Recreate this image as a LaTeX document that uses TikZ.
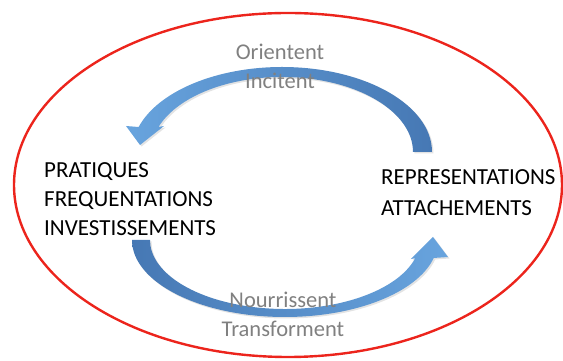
\documentclass[tikz,border=0pt]{standalone}
\usepackage{fontspec}
\setmainfont{Carlito}
\usetikzlibrary{shadows}
\definecolor{arrowlight}{RGB}{104,164,222}
\definecolor{arrowdark}{RGB}{70,120,180}
\definecolor{labelgray}{RGB}{128,128,128}
\definecolor{ringred}{RGB}{236,36,28}
\tikzstyle{big text} = [font=\fontsize{22.5}{29}\selectfont]
\tikzstyle{pole} = [align=left, anchor=west, inner sep=0pt, text=black, font=\fontsize{23}{29}\selectfont]
\tikzstyle{verb} = [align=center, inner sep=0pt, text=labelgray, big text]
\tikzstyle{ring} = [draw=ringred, line width=2.4pt]
\tikzstyle{cycle arrow} = [drop shadow={opacity=0.22, shadow xshift=1.5pt, shadow yshift=-1.5pt}]

\begin{document}
\begin{tikzpicture}[x=1pt, y=1pt]
  \useasboundingbox (0,0) rectangle (563,361);
  \draw[ring] (288,176) ellipse [x radius=274, y radius=172];
  % upper arrow
  \coordinate (upc) at (282,209);
  \shade[cycle arrow, left color=arrowlight, right color=arrowdark]
    ([xshift=150pt]upc) arc[start angle=0, end angle=162.9, x radius=150, y radius=85]
    -- (126,235) -- (140,216) -- (164,235)
    -- ([shift={(160.5:131 and 75)}]upc) arc[start angle=160.5, end angle=0, x radius=131, y radius=75]
    -- cycle;
  % lower arrow
  \coordinate (loc) at (285,121);
  \shade[cycle arrow, left color=arrowdark, right color=arrowlight]
    ([xshift=-153pt]loc) arc[start angle=180, end angle=346.5, x radius=153, y radius=77]
    -- (448,104) -- (433,124) -- (411,102)
    -- ([shift={(344.7:135 and 69)}]loc) arc[start angle=344.7, end angle=180, x radius=135, y radius=69]
    -- cycle;
  \node[pole] (pratiques) at (44,162) {PRATIQUES\\FREQUENTATIONS\\INVESTISSEMENTS};
  \node[pole, font=\fontsize{23}{31}\selectfont] (represent) at (381,168) {REPRESENTATIONS\\ATTACHEMENTS};
  \node[verb] (orient) at (280,295) {Orientent\\Incitent};
  \node[verb] (nourrit) at (283,47) {Nourrissent\\Transforment};
\end{tikzpicture}
\end{document}
